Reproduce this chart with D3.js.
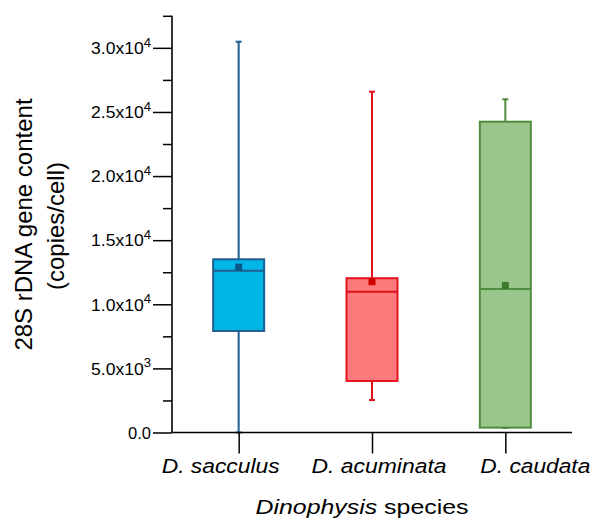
<!DOCTYPE html>
<html><head><meta charset="utf-8">
<script src="https://cdn.jsdelivr.net/npm/d3@7/dist/d3.min.js"></script>
<style>body{margin:0;background:#fff}svg{display:block}text{font-family:"Liberation Sans",Arial,sans-serif}</style>
</head><body>
<script>
const categories = ["D. sacculus", "D. acuminata", "D. caudata"];
const whiskerLow  = [0, 2530, 350];
const q1          = [7920, 4020, 380];
const median      = [12620, 10980, 11200];
const q3          = [13510, 12030, 24240];
const whiskerHigh = [30480, 26580, 25990];
const means       = [12900, 11760, 11470];
const majorTicks  = [0, 5000, 10000, 15000, 20000, 25000, 30000];
const minorTicks  = [2500, 7500, 12500, 17500, 22500, 27500, 32500];
const fills   = ["#00b6e6", "#ff7a7a", "#99c68b"];
const strokes = ["#1d5f90", "#e0121c", "#4f8c3f"];
const meanCol = ["#0b5688", "#cc0000", "#3a782a"];

const W = 593, H = 519;
const svg = d3.select("body").append("svg").attr("width", W).attr("height", H);

const y = d3.scaleLinear().domain([0, 32500]).range([432.5, 15.8]);
const x = d3.scalePoint().domain(categories).range([172, 572]).padding(0.5);
const boxW = 51, capW = 6;

// boxes
categories.forEach((c, i) => {
  const cx = x(c);
  const g = svg.append("g");
  g.append("line").attr("x1", cx).attr("x2", cx).attr("y1", y(q3[i])).attr("y2", y(whiskerHigh[i]))
    .attr("stroke", strokes[i]).attr("stroke-width", 2);
  g.append("line").attr("x1", cx).attr("x2", cx).attr("y1", y(q1[i])).attr("y2", y(whiskerLow[i]))
    .attr("stroke", strokes[i]).attr("stroke-width", 2);
  [whiskerHigh[i], whiskerLow[i]].forEach(v => {
    g.append("line").attr("x1", cx - capW / 2).attr("x2", cx + capW / 2).attr("y1", y(v)).attr("y2", y(v))
      .attr("stroke", strokes[i]).attr("stroke-width", 2);
  });
  g.append("rect").attr("x", cx - boxW / 2).attr("width", boxW)
    .attr("y", y(q3[i])).attr("height", y(q1[i]) - y(q3[i]))
    .attr("fill", fills[i]).attr("stroke", strokes[i]).attr("stroke-width", 2);
  g.append("line").attr("x1", cx - boxW / 2).attr("x2", cx + boxW / 2)
    .attr("y1", y(median[i])).attr("y2", y(median[i])).attr("stroke", strokes[i]).attr("stroke-width", 2);
  g.append("rect").attr("x", cx - 3.5).attr("y", y(means[i]) - 3.5).attr("width", 7).attr("height", 7)
    .attr("fill", meanCol[i]);
});

// y axis minor
svg.append("g").attr("transform", "translate(172,0)")
  .call(d3.axisLeft(y).tickValues(minorTicks).tickSize(9).tickFormat(""))
  .call(g => g.select(".domain").remove())
  .selectAll("line").attr("stroke", "#000").attr("stroke-width", 1.5);

// y axis major
const ya = svg.append("g").attr("transform", "translate(172,0)")
  .call(d3.axisLeft(y).tickValues(majorTicks).tickSize(19).tickSizeOuter(0).tickPadding(3).tickFormat(""));
ya.select(".domain").attr("stroke", "#000").attr("stroke-width", 1.6).attr("d", `M0,${y(32500)}V${y(0)}`);
ya.selectAll("line").attr("stroke", "#000").attr("stroke-width", 1.5);
ya.selectAll(".tick text").each(function(d) {
  const t = d3.select(this).attr("font-size", 16).attr("fill", "#000").attr("dy", "0.36em").attr("x", -21)
    .attr("lengthAdjust", "spacingAndGlyphs");
  if (d === 0) { t.text("0.0").attr("textLength", 23); return; }
  const e = Math.floor(Math.log10(d));
  const m = (d / Math.pow(10, e)).toFixed(1);
  t.attr("textLength", 60);
  t.append("tspan").text(m + "x10");
  t.append("tspan").attr("font-size", 12).attr("dy", "-0.62em").text(e);
});

// x axis
const xa = svg.append("g").attr("transform", `translate(0,${y(0)})`)
  .call(d3.axisBottom(x).tickSize(21).tickSizeOuter(0).tickFormat(""));
xa.select(".domain").attr("stroke", "#000").attr("stroke-width", 1.6).attr("d", "M172,0H572");
xa.selectAll("line").attr("stroke", "#000").attr("stroke-width", 1.5);

// x category labels
const labDx = [-18, 7, 30];
const labLen = [118, 135, 110];
categories.forEach((c, i) => {
  svg.append("text").attr("x", x(c) + labDx[i]).attr("y", 473).attr("text-anchor", "middle")
    .attr("font-size", 19.5).attr("font-style", "italic").attr("fill", "#000")
    .attr("textLength", labLen[i]).attr("lengthAdjust", "spacingAndGlyphs").text(c);
});

// x title
const xt = svg.append("text").attr("x", 362).attr("y", 514).attr("text-anchor", "middle")
  .attr("font-size", 20).attr("fill", "#000").attr("textLength", 213).attr("lengthAdjust", "spacingAndGlyphs");
xt.append("tspan").attr("font-style", "italic").text("Dinophysis");
xt.append("tspan").text(" species");

// y title
svg.append("text").attr("transform", "translate(32,224.5) rotate(-90)").attr("text-anchor", "middle")
  .attr("font-size", 24).attr("fill", "#000").text("28S rDNA gene content");
svg.append("text").attr("transform", "translate(64,226) rotate(-90)").attr("text-anchor", "middle")
  .attr("font-size", 24).attr("fill", "#000").text("(copies/cell)");
</script>
</body></html>
